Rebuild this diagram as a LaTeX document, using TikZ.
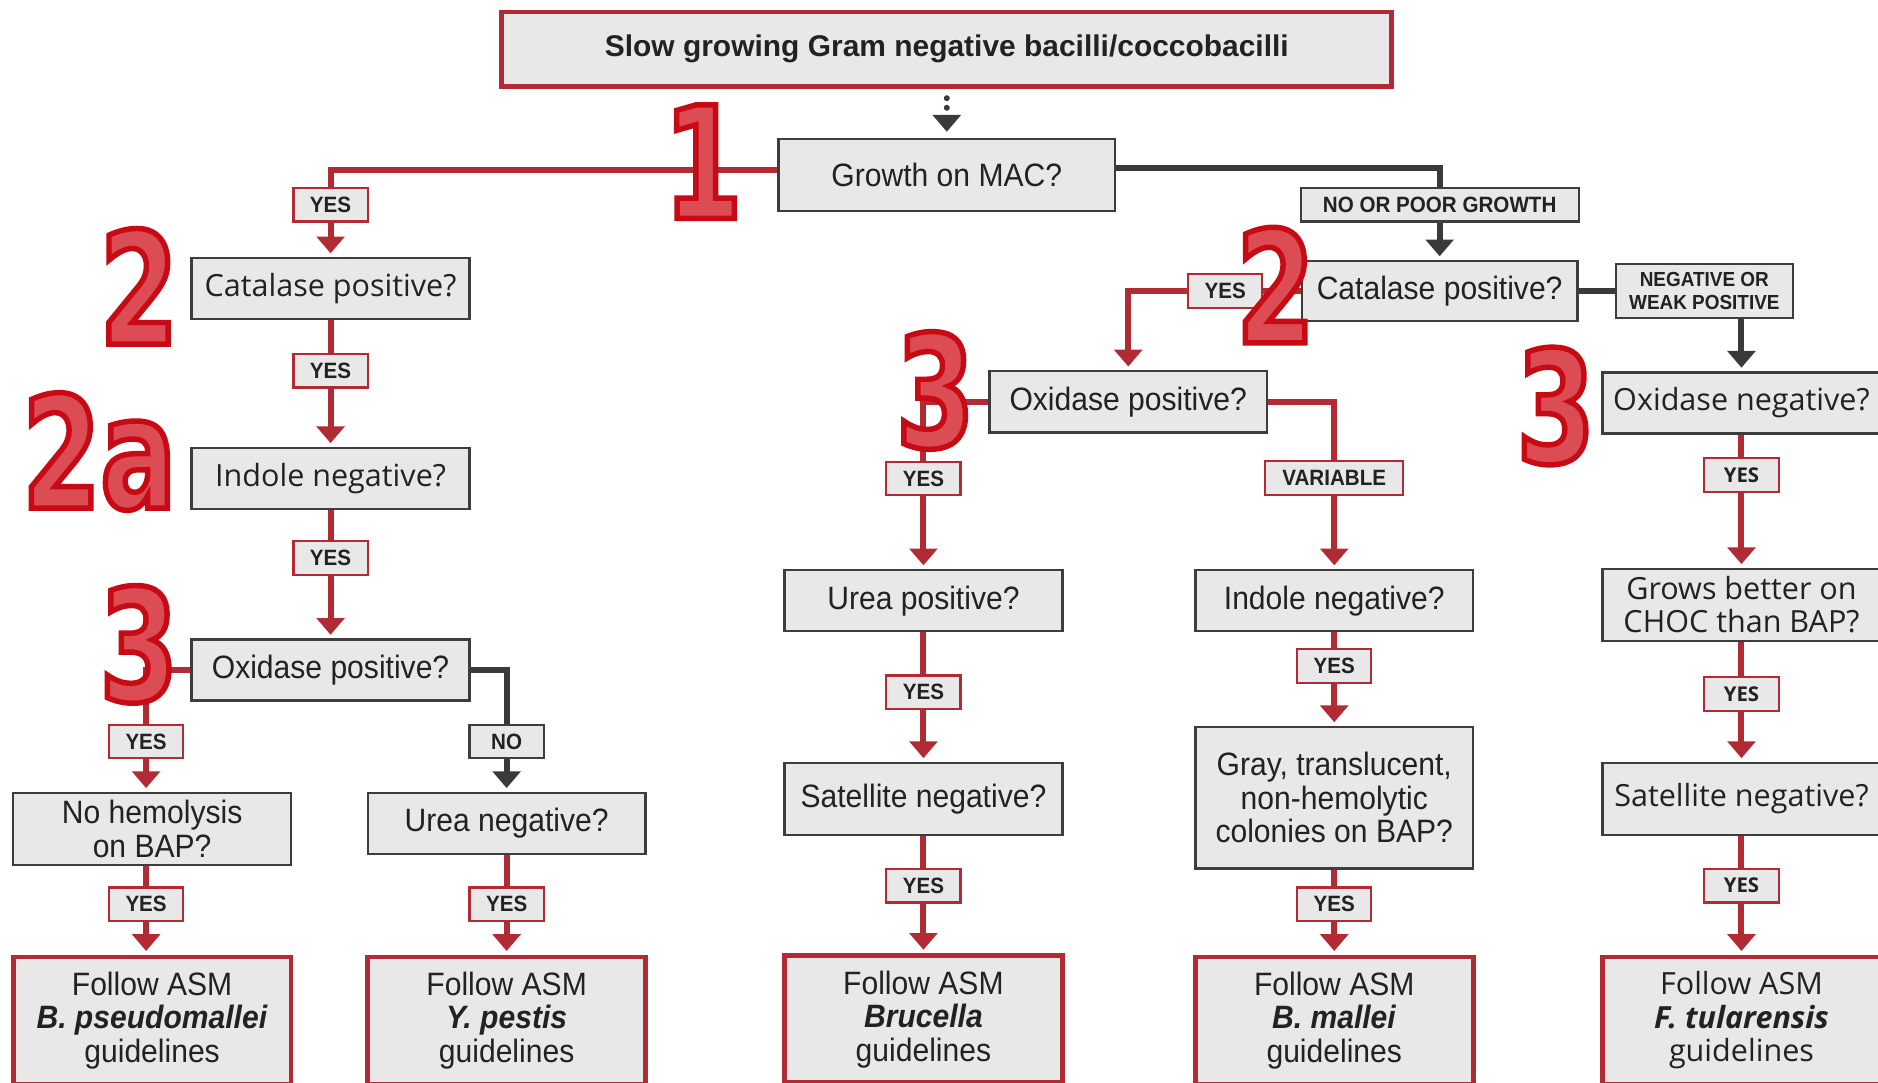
\documentclass[tikz,border=0pt]{standalone}
\usepackage{fontspec}
\setmainfont{Liberation Sans}
\newfontfamily\condf[FakeStretch=0.93]{Liberation Sans}
\newfontfamily\widef{Open Sans}
\newfontfamily\numf[FakeStretch=0.72,FakeBold=3.5]{DejaVu Sans}
\usetikzlibrary{arrows.meta}

\definecolor{boxfill}{HTML}{E8E8E8}
\definecolor{boxline}{HTML}{3D3D3D}
\definecolor{redline}{HTML}{B22A33}
\definecolor{darkline}{HTML}{3A3A3A}
\definecolor{numlight}{HTML}{DB4C54}
\definecolor{txt}{HTML}{222222}

\tikzset{%
  >={Triangle[width=23pt,length=14pt]},
            base/.style = {rectangle, draw=boxline, line width=2pt, fill=boxfill,
                           text=txt, minimum width=232pt, minimum height=51pt,
                           inner sep=0pt, text centered, align=center},
  box/.style      = {base, font=\condf\fontsize{27}{28}\selectfont},
  boxw/.style     = {base, font=\widef\fontsize{25.5}{28}\selectfont},
  endbox/.style   = {box, draw=redline, line width=4pt, minimum height=106pt},
  endboxw/.style  = {boxw, draw=redline, line width=4pt, minimum height=106pt},
  titlebox/.style = {base, draw=redline, line width=4pt, minimum width=743pt,
                     minimum height=62pt, font=\bfseries\fontsize{25}{28}\selectfont},
  yesbox/.style   = {base, draw=redline, line width=1.8pt, minimum width=62pt,
                     minimum height=28pt, font=\condf\bfseries\fontsize{18.5}{19}\selectfont},
  yesboxw/.style  = {yesbox, font=\widef\bfseries\fontsize{17}{19}\selectfont},
  nobox/.style    = {yesbox, draw=boxline},
  redc/.style     = {draw=redline, line width=5pt},
  darkc/.style    = {draw=darkline, line width=5pt},
  tip/.style      = {->, shorten >=3pt},
  stepnum/.style  = {inner sep=0pt, text=numlight,
                     font=\numf\bfseries\fontsize{130}{130}\selectfont},
}

% big step numbers: name, centre, text (light face, deep red rim)
\newcommand{\bigstep}[3]{%
  \node (#1) [stepnum] at (#2) {\special{pdf:code 0.784 0.039 0.078 RG}#3};
}

\begin{document}
\begin{tikzpicture}[x=1pt, y=1pt, node distance=160pt]
  \useasboundingbox (0,0) rectangle (1568,-904);
  \clip (0,0) rectangle (1568,-904);

  \node (top) [titlebox] at (790.5,-41) {Slow growing Gram negative bacilli/coccobacilli};
  \node (mac) [box, minimum width=281pt, minimum height=60pt, below of=top, yshift=55pt] {Growth on MAC?};

  % growth on MAC
  \node (catL)  [boxw, below of=mac, xshift=-514.5pt, yshift=65pt] {Catalase positive?};
  \node (indL)  [boxw, below of=catL, yshift=1.5pt]                {Indole negative?};
  \node (oxL)   [box,  below of=indL]                              {Oxidase positive?};
  \node (hemo)  [box, minimum height=60pt, below of=oxL, xshift=-149pt, yshift=27.5pt] {No hemolysis\\on BAP?};
  \node (ureaN) [box,  below of=oxL, xshift=147pt, yshift=32pt]    {Urea negative?};
  \node (bpseudo) [endbox, below of=hemo]                          {Follow ASM\\\textbf{\textit{B. pseudomallei}}\\guidelines};
  \node (ypestis) [endbox, below of=ureaN, yshift=-4.5pt]          {Follow ASM\\\textbf{\textit{Y. pestis}}\\guidelines};

  % no or poor growth
  \node (catR)  [box,  minimum width=230pt, minimum height=50pt, below of=mac, xshift=411.5pt, yshift=63pt] {Catalase positive?};
  \node (oxM)   [box,  below of=catR, xshift=-260pt, yshift=67.5pt] {Oxidase positive?};
  \node (urea)  [box,  below of=oxM, xshift=-171pt, yshift=-6pt]    {Urea positive?};
  \node (indM)  [box,  below of=oxM, xshift=172pt, yshift=-6pt]     {Indole negative?};
  \node (satM)  [box,  minimum height=60pt, below of=urea, yshift=-5.5pt] {Satellite negative?};
  \node (brucella) [endbox, below of=satM, yshift=-24pt]            {Follow ASM\\\textbf{\textit{Brucella}}\\guidelines};
  \node (gray)  [box,  minimum height=118pt, below of=indM, yshift=-4.5pt] {Gray, translucent,\\non-hemolytic\\colonies on BAP?};
  \node (bmallei) [endbox, below of=gray, yshift=-26pt]             {Follow ASM\\\textbf{\textit{B. mallei}}\\guidelines};
  \node (oxN)   [boxw, below of=catR, xshift=252pt, yshift=66.5pt] {Oxidase negative?};
  \node (choc)  [boxw, minimum height=60pt, below of=oxN, yshift=-8.5pt] {Grows better on\\CHOC than BAP?};
  \node (satR)  [boxw, minimum height=60pt, below of=choc, yshift=-2pt]  {Satellite negative?};
  \node (ftul)  [endboxw, below of=satR, yshift=-25pt]              {Follow ASM\\\textbf{\textit{F. tularensis}}\\guidelines};

  % answers
  \node (yesA)   [yesbox, node distance=70pt, above of=catL]   {YES};
  \node (nopoor) [nobox, minimum width=232pt, node distance=72pt, above of=catR] {NO OR POOR GROWTH};
  \node (yesB)   [yesbox, node distance=68.5pt, below of=catL] {YES};
  \node (yesC)   [yesbox, node distance=66.5pt, below of=indL] {YES};
  \node (yesD)   [yesbox, node distance=73pt, above of=hemo, xshift=-5pt] {YES};
  \node (noE)    [nobox,  node distance=68.5pt, above of=ureaN] {NO};
  \node (yesF)   [yesbox, node distance=63pt, below of=hemo, xshift=-5pt] {YES};
  \node (yesG)   [yesbox, node distance=67.5pt, below of=ureaN] {YES};
  \node (yesH)   [yesbox, node distance=179pt, left of=catR]   {YES};
  \node (negweak) [nobox, minimum width=148pt, minimum height=45pt, node distance=221pt, right of=catR,
                   font=\condf\bfseries\fontsize{17}{19}\selectfont] {NEGATIVE OR\\WEAK POSITIVE};
  \node (yesI)   [yesbox, node distance=102pt, above of=urea]  {YES};
  \node (var)    [yesbox, minimum width=115pt, node distance=102.5pt, above of=indM] {VARIABLE};
  \node (yesJ)   [yesboxw, node distance=60pt, below of=oxN]   {YES};
  \node (yesK)   [yesbox, node distance=76.5pt, below of=urea] {YES};
  \node (yesL)   [yesbox, node distance=54.5pt, below of=indM] {YES};
  \node (yesM)   [yesboxw, node distance=74.5pt, below of=choc] {YES};
  \node (yesN)   [yesbox, node distance=72.5pt, below of=satM] {YES};
  \node (yesO)   [yesbox, node distance=89pt, below of=gray]   {YES};
  \node (yesP)   [yesboxw, node distance=72.5pt, below of=satR] {YES};

  \draw[darkc, tip, dash pattern=on 0pt off 8pt, line cap=round, shorten <=8pt, shorten >=5pt] (top) -- (mac);

  \draw[redc]       ([yshift=4pt]mac.west) -| (yesA.north);
  \draw[redc, tip]  (yesA) -- (catL);
  \draw[darkc]      ([yshift=6pt]mac.east) -| (nopoor.north);
  \draw[darkc, tip] (nopoor) -- (catR);

  \draw[redc]       (catL) -- (yesB);
  \draw[redc, tip]  (yesB) -- (indL);
  \draw[redc]       (indL) -- (yesC);
  \draw[redc, tip]  (yesC) -- (oxL);
  \draw[redc]       (oxL.west) -| (yesD.north);
  \draw[redc, tip]  (yesD) -- (yesD |- hemo.north);
  \draw[darkc]      (oxL.east) -| (noE.north);
  \draw[darkc, tip] (noE) -- (ureaN);
  \draw[redc]       (hemo.south -| yesF) -- (yesF);
  \draw[redc, tip]  (yesF) -- (yesF |- bpseudo.north);
  \draw[redc]       (ureaN) -- (yesG);
  \draw[redc, tip]  (yesG) -- (ypestis);

  \draw[redc]       (catR) -- (yesH);
  \draw[redc, tip]  (yesH.west) -| (oxM.north);
  \draw[darkc]      (catR) -- (negweak);
  \draw[darkc, tip] (negweak.south -| oxN) -- (oxN);
  \draw[redc]       (oxM.west) -| (yesI.north);
  \draw[redc, tip]  (yesI) -- (urea);
  \draw[redc]       (oxM.east) -| (var.north);
  \draw[redc, tip]  (var) -- (indM);
  \draw[redc]       (urea) -- (yesK);
  \draw[redc, tip]  (yesK) -- (satM);
  \draw[redc]       (satM) -- (yesN);
  \draw[redc, tip]  (yesN) -- (brucella);
  \draw[redc]       (indM) -- (yesL);
  \draw[redc, tip]  (yesL) -- (gray);
  \draw[redc]       (gray) -- (yesO);
  \draw[redc, tip]  (yesO) -- (bmallei);
  \draw[redc]       (oxN) -- (yesJ);
  \draw[redc, tip]  (yesJ) -- (choc);
  \draw[redc]       (choc) -- (yesM);
  \draw[redc, tip]  (yesM) -- (satR);
  \draw[redc]       (satR) -- (yesP);
  \draw[redc, tip]  (yesP) -- (ftul);

  % step numbers
  \bigstep{one}{587,-135}{1}
  \bigstep{twoL}{116,-239}{2}
  \bigstep{twoa}{83,-377}{2a}
  \bigstep{threeL}{116,-538}{3}
  \bigstep{twoR}{1065,-238}{2}
  \bigstep{threeM}{781,-326}{3}
  \bigstep{threeR}{1299,-339}{3}
\end{tikzpicture}
\end{document}
